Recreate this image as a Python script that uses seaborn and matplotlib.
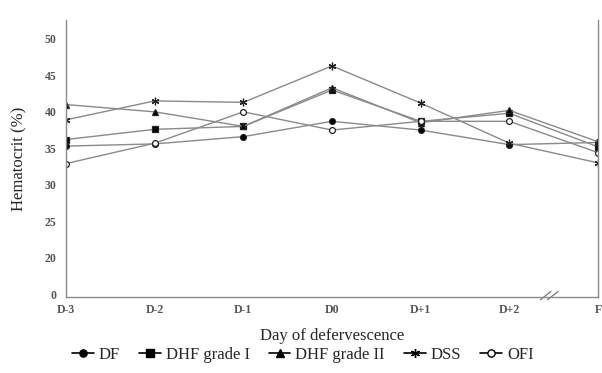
import matplotlib
matplotlib.use("Agg")
import matplotlib.pyplot as plt
from matplotlib.lines import Line2D
import seaborn as sns
import pandas as pd

days = ["D-3", "D-2", "D-1", "D0", "D+1", "D+2", "F"]
series_names = ["DF", "DHF grade I", "DHF grade II", "DSS", "OFI"]
df_vals = [35.3, 35.6, 36.6, 38.7, 37.5, 35.5, 35.8]
dhf1_vals = [36.2, 37.6, 38.0, 43.0, 38.7, 39.8, 35.2]
dhf2_vals = [41.0, 40.0, 38.0, 43.3, 38.5, 40.2, 35.9]
dss_vals = [38.9, 41.5, 41.3, 46.3, 41.2, 35.7, 33.0]
ofi_vals = [32.9, 35.7, 40.0, 37.5, 38.7, 38.7, 34.4]
y_ticks = [15, 20, 25, 30, 35, 40, 45, 50]
y_ticklabels = ["0", "20", "25", "30", "35", "40", "45", "50"]

values = [df_vals, dhf1_vals, dhf2_vals, dss_vals, ofi_vals]
markers = ["o", "s", "^", (6, 2, 0), "o"]
faces = ["black", "black", "black", "black", "white"]
sizes = [4.2, 4.2, 5, 5.5, 4.2]

sns.set_style("white")
plt.rcParams["font.family"] = ["Liberation Serif", "DejaVu Serif"]

fig = plt.figure(figsize=(6.02, 3.73), dpi=100)
ax = fig.add_axes([0.1096, 0.2038, 0.8838, 0.7426])

xpos = list(range(len(days)))
for name, vals, mk, fc, ms in zip(series_names, values, markers, faces, sizes):
    d = pd.DataFrame({"x": xpos, "y": vals})
    sns.lineplot(data=d, x="x", y="y", ax=ax, color="#8a8a8a", linewidth=1.0,
                 marker=mk, markersize=ms, markerfacecolor=fc,
                 markeredgecolor="#222222", markeredgewidth=0.9, legend=False)

ax.set_xlim(0, 6)
ax.set_ylim(14.6, 52.6)
ax.set_xticks(xpos)
ax.set_xticklabels(days, fontsize=8.5, fontweight="bold", color="#555555")
ax.set_yticks(y_ticks)
ax.set_yticklabels(y_ticklabels, fontsize=8.5, fontweight="bold", color="#555555")
ax.tick_params(axis="both", direction="out", length=3, width=0.8, color="#888888", pad=4)
ax.tick_params(axis="x", pad=2)

for side in ["left", "bottom", "right"]:
    ax.spines[side].set_visible(True)
    ax.spines[side].set_color("#8a8a8a")
    ax.spines[side].set_linewidth(1.0)
ax.spines["top"].set_visible(False)

ax.set_xlabel("Day of defervescence", fontsize=12, labelpad=9)
ax.set_ylabel("Hematocrit (%)", fontsize=12, labelpad=12)

# axis break marks on x-axis
trans = ax.get_xaxis_transform()
for dx in (-0.04, 0.04):
    ax.plot([5.45 + dx - 0.06, 5.45 + dx + 0.06], [-0.01, 0.02], transform=trans,
            color="#777777", lw=0.9, clip_on=False)

handles = [Line2D([0], [0], color="black", lw=1.2, marker=mk, markersize=ms + 1,
                  markerfacecolor=fc, markeredgecolor="black")
           for mk, fc, ms in zip(markers, faces, sizes)]
fig.legend(handles, series_names, loc="center", bbox_to_anchor=(0.503, 0.048),
           ncol=5, frameon=False, fontsize=12, handlelength=1.3,
           handletextpad=0.3, columnspacing=1.15)

fig.savefig("out.png", dpi=100)
